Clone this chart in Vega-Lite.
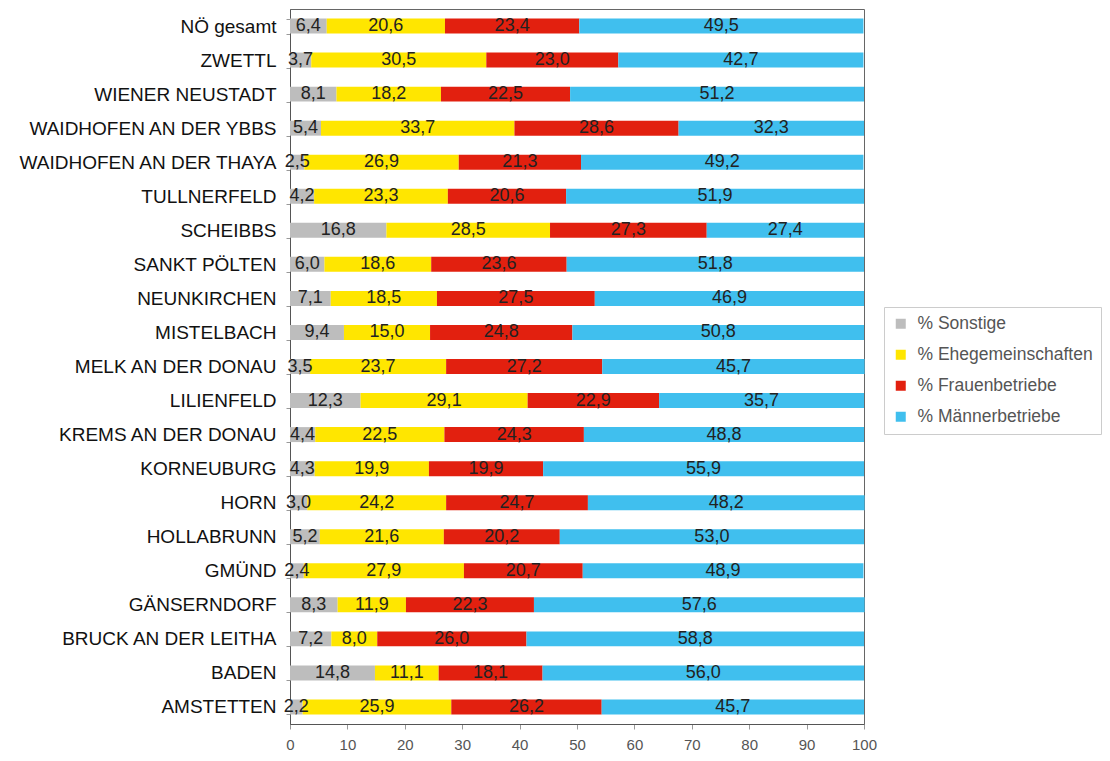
{
  "$schema": "https://vega.github.io/schema/vega-lite/v6.json",
  "width": 574,
  "height": 715,
  "autosize": {"type": "none"},
  "padding": {"left": 290, "top": 9, "right": 246, "bottom": 37},
  "background": "white",
  "config": {
    "locale": {"number": {"decimal": ",", "thousands": ".", "grouping": [3], "currency": ["", " €"]}},
    "font": "Liberation Sans",
    "view": {"stroke": "#666", "strokeWidth": 1}
  },
  "data": {"values": [
    {"r": "NÖ gesamt", "t": "% Sonstige", "v": 6.4}, {"r": "NÖ gesamt", "t": "% Ehegemeinschaften", "v": 20.6}, {"r": "NÖ gesamt", "t": "% Frauenbetriebe", "v": 23.4}, {"r": "NÖ gesamt", "t": "% Männerbetriebe", "v": 49.5},
    {"r": "ZWETTL", "t": "% Sonstige", "v": 3.7}, {"r": "ZWETTL", "t": "% Ehegemeinschaften", "v": 30.5}, {"r": "ZWETTL", "t": "% Frauenbetriebe", "v": 23.0}, {"r": "ZWETTL", "t": "% Männerbetriebe", "v": 42.7},
    {"r": "WIENER NEUSTADT", "t": "% Sonstige", "v": 8.1}, {"r": "WIENER NEUSTADT", "t": "% Ehegemeinschaften", "v": 18.2}, {"r": "WIENER NEUSTADT", "t": "% Frauenbetriebe", "v": 22.5}, {"r": "WIENER NEUSTADT", "t": "% Männerbetriebe", "v": 51.2},
    {"r": "WAIDHOFEN AN DER YBBS", "t": "% Sonstige", "v": 5.4}, {"r": "WAIDHOFEN AN DER YBBS", "t": "% Ehegemeinschaften", "v": 33.7}, {"r": "WAIDHOFEN AN DER YBBS", "t": "% Frauenbetriebe", "v": 28.6}, {"r": "WAIDHOFEN AN DER YBBS", "t": "% Männerbetriebe", "v": 32.3},
    {"r": "WAIDHOFEN AN DER THAYA", "t": "% Sonstige", "v": 2.5}, {"r": "WAIDHOFEN AN DER THAYA", "t": "% Ehegemeinschaften", "v": 26.9}, {"r": "WAIDHOFEN AN DER THAYA", "t": "% Frauenbetriebe", "v": 21.3}, {"r": "WAIDHOFEN AN DER THAYA", "t": "% Männerbetriebe", "v": 49.2},
    {"r": "TULLNERFELD", "t": "% Sonstige", "v": 4.2}, {"r": "TULLNERFELD", "t": "% Ehegemeinschaften", "v": 23.3}, {"r": "TULLNERFELD", "t": "% Frauenbetriebe", "v": 20.6}, {"r": "TULLNERFELD", "t": "% Männerbetriebe", "v": 51.9},
    {"r": "SCHEIBBS", "t": "% Sonstige", "v": 16.8}, {"r": "SCHEIBBS", "t": "% Ehegemeinschaften", "v": 28.5}, {"r": "SCHEIBBS", "t": "% Frauenbetriebe", "v": 27.3}, {"r": "SCHEIBBS", "t": "% Männerbetriebe", "v": 27.4},
    {"r": "SANKT PÖLTEN", "t": "% Sonstige", "v": 6.0}, {"r": "SANKT PÖLTEN", "t": "% Ehegemeinschaften", "v": 18.6}, {"r": "SANKT PÖLTEN", "t": "% Frauenbetriebe", "v": 23.6}, {"r": "SANKT PÖLTEN", "t": "% Männerbetriebe", "v": 51.8},
    {"r": "NEUNKIRCHEN", "t": "% Sonstige", "v": 7.1}, {"r": "NEUNKIRCHEN", "t": "% Ehegemeinschaften", "v": 18.5}, {"r": "NEUNKIRCHEN", "t": "% Frauenbetriebe", "v": 27.5}, {"r": "NEUNKIRCHEN", "t": "% Männerbetriebe", "v": 46.9},
    {"r": "MISTELBACH", "t": "% Sonstige", "v": 9.4}, {"r": "MISTELBACH", "t": "% Ehegemeinschaften", "v": 15.0}, {"r": "MISTELBACH", "t": "% Frauenbetriebe", "v": 24.8}, {"r": "MISTELBACH", "t": "% Männerbetriebe", "v": 50.8},
    {"r": "MELK AN DER DONAU", "t": "% Sonstige", "v": 3.5}, {"r": "MELK AN DER DONAU", "t": "% Ehegemeinschaften", "v": 23.7}, {"r": "MELK AN DER DONAU", "t": "% Frauenbetriebe", "v": 27.2}, {"r": "MELK AN DER DONAU", "t": "% Männerbetriebe", "v": 45.7},
    {"r": "LILIENFELD", "t": "% Sonstige", "v": 12.3}, {"r": "LILIENFELD", "t": "% Ehegemeinschaften", "v": 29.1}, {"r": "LILIENFELD", "t": "% Frauenbetriebe", "v": 22.9}, {"r": "LILIENFELD", "t": "% Männerbetriebe", "v": 35.7},
    {"r": "KREMS AN DER DONAU", "t": "% Sonstige", "v": 4.4}, {"r": "KREMS AN DER DONAU", "t": "% Ehegemeinschaften", "v": 22.5}, {"r": "KREMS AN DER DONAU", "t": "% Frauenbetriebe", "v": 24.3}, {"r": "KREMS AN DER DONAU", "t": "% Männerbetriebe", "v": 48.8},
    {"r": "KORNEUBURG", "t": "% Sonstige", "v": 4.3}, {"r": "KORNEUBURG", "t": "% Ehegemeinschaften", "v": 19.9}, {"r": "KORNEUBURG", "t": "% Frauenbetriebe", "v": 19.9}, {"r": "KORNEUBURG", "t": "% Männerbetriebe", "v": 55.9},
    {"r": "HORN", "t": "% Sonstige", "v": 3.0}, {"r": "HORN", "t": "% Ehegemeinschaften", "v": 24.2}, {"r": "HORN", "t": "% Frauenbetriebe", "v": 24.7}, {"r": "HORN", "t": "% Männerbetriebe", "v": 48.2},
    {"r": "HOLLABRUNN", "t": "% Sonstige", "v": 5.2}, {"r": "HOLLABRUNN", "t": "% Ehegemeinschaften", "v": 21.6}, {"r": "HOLLABRUNN", "t": "% Frauenbetriebe", "v": 20.2}, {"r": "HOLLABRUNN", "t": "% Männerbetriebe", "v": 53.0},
    {"r": "GMÜND", "t": "% Sonstige", "v": 2.4}, {"r": "GMÜND", "t": "% Ehegemeinschaften", "v": 27.9}, {"r": "GMÜND", "t": "% Frauenbetriebe", "v": 20.7}, {"r": "GMÜND", "t": "% Männerbetriebe", "v": 48.9},
    {"r": "GÄNSERNDORF", "t": "% Sonstige", "v": 8.3}, {"r": "GÄNSERNDORF", "t": "% Ehegemeinschaften", "v": 11.9}, {"r": "GÄNSERNDORF", "t": "% Frauenbetriebe", "v": 22.3}, {"r": "GÄNSERNDORF", "t": "% Männerbetriebe", "v": 57.6},
    {"r": "BRUCK AN DER LEITHA", "t": "% Sonstige", "v": 7.2}, {"r": "BRUCK AN DER LEITHA", "t": "% Ehegemeinschaften", "v": 8.0}, {"r": "BRUCK AN DER LEITHA", "t": "% Frauenbetriebe", "v": 26.0}, {"r": "BRUCK AN DER LEITHA", "t": "% Männerbetriebe", "v": 58.8},
    {"r": "BADEN", "t": "% Sonstige", "v": 14.8}, {"r": "BADEN", "t": "% Ehegemeinschaften", "v": 11.1}, {"r": "BADEN", "t": "% Frauenbetriebe", "v": 18.1}, {"r": "BADEN", "t": "% Männerbetriebe", "v": 56.0},
    {"r": "AMSTETTEN", "t": "% Sonstige", "v": 2.2}, {"r": "AMSTETTEN", "t": "% Ehegemeinschaften", "v": 25.9}, {"r": "AMSTETTEN", "t": "% Frauenbetriebe", "v": 26.2}, {"r": "AMSTETTEN", "t": "% Männerbetriebe", "v": 45.7}
  ]},
  "transform": [
    {"calculate": "indexof(['% Sonstige','% Ehegemeinschaften','% Frauenbetriebe','% Männerbetriebe'], datum.t)", "as": "o"},
    {"stack": "v", "groupby": ["r"], "sort": [{"field": "o", "order": "ascending"}], "as": ["x0", "x1"]},
    {"calculate": "(datum.x0 + datum.x1) / 2", "as": "xm"}
  ],
  "encoding": {
    "y": {
      "field": "r", "type": "nominal",
      "sort": ["NÖ gesamt", "ZWETTL", "WIENER NEUSTADT", "WAIDHOFEN AN DER YBBS", "WAIDHOFEN AN DER THAYA", "TULLNERFELD", "SCHEIBBS", "SANKT PÖLTEN", "NEUNKIRCHEN", "MISTELBACH", "MELK AN DER DONAU", "LILIENFELD", "KREMS AN DER DONAU", "KORNEUBURG", "HORN", "HOLLABRUNN", "GMÜND", "GÄNSERNDORF", "BRUCK AN DER LEITHA", "BADEN", "AMSTETTEN"],
      "scale": {"paddingInner": 0.56, "paddingOuter": 0.28},
      "axis": {"title": null, "labelFontSize": 19, "labelLimit": 400, "labelColor": "#111", "labelFont": "Liberation Sans", "tickSize": 4, "tickBand": "extent", "tickColor": "#999", "domainColor": "#555", "labelPadding": 10}
    }
  },
  "layer": [
    {
      "mark": {"type": "bar"},
      "encoding": {
        "x": {"field": "x0", "type": "quantitative", "scale": {"domain": [0, 100], "nice": false},
          "axis": {"title": null, "values": [0, 10, 20, 30, 40, 50, 60, 70, 80, 90, 100], "format": "d", "grid": false, "labelFlush": false, "labelFontSize": 15, "labelColor": "#555", "tickSize": 5, "tickColor": "#999", "domainColor": "#555", "labelPadding": 8}},
        "x2": {"field": "x1"},
        "color": {
          "field": "t", "type": "nominal",
          "sort": ["% Sonstige", "% Ehegemeinschaften", "% Frauenbetriebe", "% Männerbetriebe"],
          "scale": {"domain": ["% Sonstige", "% Ehegemeinschaften", "% Frauenbetriebe", "% Männerbetriebe"], "range": ["#BDBDBD", "#FFE600", "#E2200F", "#40BFEE"]},
          "legend": {"title": null, "orient": "none", "legendX": 594, "legendY": 298, "strokeColor": "#ccc", "fillColor": "white", "padding": 8, "labelFontSize": 17.5, "labelLimit": 300, "labelColor": "#555", "labelFont": "Liberation Sans", "symbolType": "square", "symbolSize": 100, "symbolStrokeWidth": 0, "rowPadding": 12, "labelOffset": 8}
        }
      }
    },
    {
      "mark": {"type": "text", "fontSize": 18, "color": "#222", "baseline": "middle", "font": "Liberation Sans"},
      "encoding": {
        "x": {"field": "xm", "type": "quantitative"},
        "text": {"field": "v", "type": "quantitative", "format": ".1f"}
      }
    }
  ]
}
